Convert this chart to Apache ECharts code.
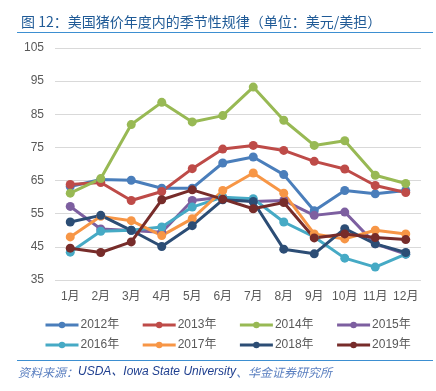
<!DOCTYPE html>
<html><head><meta charset="utf-8">
<script src="https://cdn.jsdelivr.net/npm/echarts@6/dist/echarts.min.js"></script>
<style>html,body{margin:0;padding:0;background:#fff}#c{width:436px;height:391px}</style>
</head><body><div id="c"></div>
<script>
const months = ['1月','2月','3月','4月','5月','6月','7月','8月','9月','10月','11月','12月'];
const years = ['2012年','2013年','2014年','2015年','2016年','2017年','2018年','2019年'];
const colors = ['#4a7ebb','#be4b48','#98b954','#7d5fa0','#46aac5','#f79646','#2c4d75','#772c2a'];
const y2012 = [63.2,65.3,65.1,62.7,62.7,70.3,72.1,66.8,55.9,62.0,61.0,62.0];
const y2013 = [63.8,64.4,59.0,61.7,68.6,74.5,75.6,74.1,70.8,68.5,63.5,61.4];
const y2014 = [61.2,65.6,81.9,88.6,82.7,84.6,93.2,83.2,75.6,77.0,66.6,64.1];
const y2015 = [57.2,50.4,49.9,49.4,59.0,60.0,58.7,59.0,54.5,55.5,45.9,42.8];
const y2016 = [43.4,49.7,50.0,51.0,57.0,60.0,59.5,52.5,48.0,41.6,38.9,42.8];
const y2017 = [48.0,54.2,52.9,48.4,53.5,62.0,67.3,61.2,48.9,47.4,50.0,48.9];
const y2018 = [52.5,54.5,50.0,45.1,51.4,59.2,58.7,44.3,42.9,50.5,45.9,43.3];
const y2019 = [44.6,43.3,46.5,59.2,62.2,59.4,56.5,58.4,47.7,48.9,47.8,47.2];
const seriesData = [y2012,y2013,y2014,y2015,y2016,y2017,y2018,y2019];
const yTicks = [35,45,55,65,75,85,95,105];

const font = 'Liberation Sans, Arial, Noto Sans CJK SC, sans-serif';
const chart = echarts.init(document.getElementById('c'));
const legendCommon = {
  itemWidth: 33, itemHeight: 8, itemGap: 22,
  lineStyle: {width: 3},
  textStyle: {color:'#595959', fontSize:12, fontFamily:font, padding:[0,0,0,-3]}
};
chart.setOption({
  animation: false,
  color: colors,
  title: {
    text: '图 12：美国猪价年度内的季节性规律（单位：美元/美担）',
    left: 16, top: 10,
    textStyle: {color:'#1f5a96', fontSize:14, fontWeight:'normal', fontFamily:'Noto Sans CJK SC, sans-serif'}
  },
  graphic: [
    {type:'line', shape:{x1:17,y1:32.5,x2:433,y2:32.5}, style:{stroke:'#3d8fd1', lineWidth:1}},
    {type:'line', shape:{x1:17,y1:360.5,x2:433,y2:360.5}, style:{stroke:'#3d8fd1', lineWidth:1}},
    {type:'text', left:18, top:366, style:{
      text:'{a|资料来源：}{b|USDA、Iowa State University}{a|、华金证券研究所}',
      rich:{
        a:{fill:'#5a7fc0', fontSize:12, fontStyle:'italic', fontFamily:'Noto Sans CJK SC, sans-serif'},
        b:{fill:'#1f3f8f', fontSize:12, fontStyle:'italic', fontFamily:font}
      }
    }}
  ],
  legend: [
    Object.assign({}, legendCommon, {data: years.slice(0,4), left: 39, top: 314}),
    Object.assign({}, legendCommon, {data: years.slice(4), left: 39, top: 334})
  ],
  grid: {left:55, right:15, top:48, bottom:111},
  xAxis: {
    type:'category', data: months, boundaryGap:true,
    axisLine:{show:false}, axisTick:{show:false},
    axisLabel:{color:'#595959', fontSize:12, fontFamily:font, margin:11, interval:0}
  },
  yAxis: {
    type:'value', min:35, max:105, interval:10,
    axisLine:{show:false}, axisTick:{show:false},
    axisLabel:{color:'#595959', fontSize:12, fontFamily:font, margin:11,
      formatter: v => yTicks.includes(v) ? String(v) : ''},
    splitLine:{lineStyle:{color:'#d9d9d9', width:1}}
  },
  series: years.map((name,i)=>({
    name, type:'line', data: seriesData[i],
    symbol:'circle', symbolSize:9,
    lineStyle:{width:3, color:colors[i]},
    itemStyle:{color:colors[i]}
  }))
});
</script></body></html>
